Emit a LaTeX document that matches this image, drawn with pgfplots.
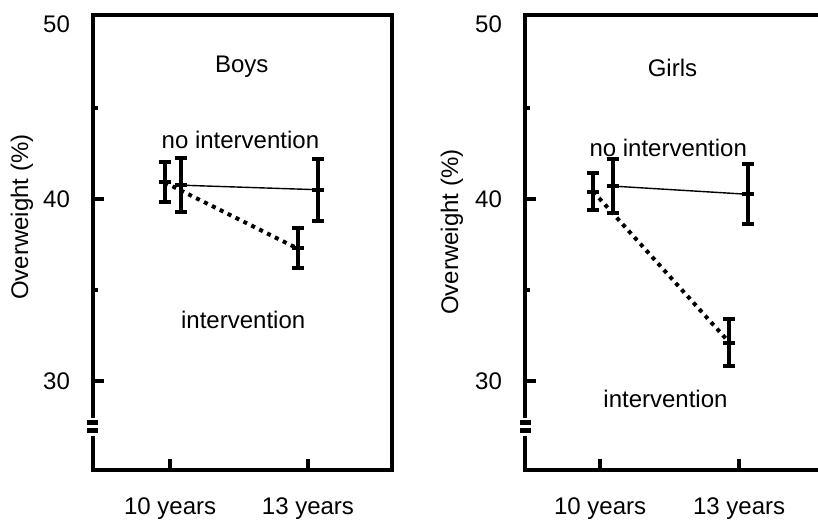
\documentclass[border=0pt]{standalone}
\usepackage{pgfplots}
\pgfplotsset{compat=1.18}
\usepackage{fontspec}
\setmainfont{Liberation Sans}
\pgfplotsset{
  panel/.style={
    scale only axis, width=149.5pt, height=227.5pt,
    ymin=25.1, ymax=50.1,
    axis line style={line width=2pt, line cap=rect},
    ytick={30,40}, minor ytick={35,45},
    extra y ticks={50},
    extra y tick style={major tick length=0pt, yticklabel style={yshift=-3.7pt}},
    xtick={0,1}, xticklabels={10 years, 13 years},
    xtick pos=lower, ytick pos=left,
    tick align=inside,
    major tick length=5.5pt, minor tick length=2.5pt,
    tick style={line width=2pt, black},
    minor tick style={line width=2pt, black},
    /pgf/number format/assume math mode=true,
    font=\fontsize{12}{14}\selectfont,
    ticklabel style={font=\fontsize{12}{14}\selectfont},
    yticklabel style={xshift=-8pt},
    xticklabel style={yshift=-10.5pt},
    clip=false,
  },
  thinline/.style={black, line width=0.7pt, no marks},
  dotline/.style={black, line width=2pt, dash pattern=on 2pt off 2.4pt, no marks},
  ebar/.style={black, only marks, mark=-, mark size=3pt, mark options={line width=2pt, solid},
    error bars/.cd, y dir=both, y explicit,
    error bar style={line width=2pt, solid},
    error mark options={rotate=90, line width=2pt, mark size=3pt, solid}},
}
\begin{document}
\begin{tikzpicture}
% Boys
\begin{axis}[panel, at={(46.5pt,25pt)}, anchor=south west,
  xmin=-0.56, xmax=1.61,
  ylabel={Overweight (\%)},
  ylabel style={at={(rel axis cs:0,0.556)}, yshift=35.5pt, anchor=center, font=\fontsize{12}{14}\selectfont}]
\addplot[thinline] coordinates {(0.08,40.75) (1.07,40.5)};
\addplot[dotline] coordinates {(-0.04,40.9) (0.93,37.25)};
\addplot[ebar] coordinates {(-0.04,40.9) +- (0,1.1) (0.08,40.75) +- (0,1.5) (0.93,37.3) +- (0,1.1) (1.07,40.5) +- (0,1.7)};
\node at (axis cs:0.52,47.25) {Boys};
\node at (axis cs:0.51,43.25) {no intervention};
\node at (axis cs:0.53,33.35) {intervention};
\end{axis}
% Girls
\begin{axis}[panel, at={(262.5pt,25pt)}, anchor=south west,
  xmin=-0.54, xmax=1.61,
  ylabel={Overweight (\%)},
  ylabel style={at={(rel axis cs:0,0.523)}, yshift=36.5pt, anchor=center, font=\fontsize{12}{14}\selectfont}]
\addplot[thinline] coordinates {(0.09,40.7) (1.06,40.25)};
\addplot[dotline] coordinates {(-0.05,40.4) (0.93,32.1)};
\addplot[ebar] coordinates {(-0.05,40.4) +- (0,1.0) (0.09,40.7) +- (0,1.5) (0.93,32.1) +- (0,1.3) (1.06,40.25) +- (0,1.65)};
\node at (axis cs:0.52,47.2) {Girls};
\node at (axis cs:0.49,42.8) {no intervention};
\node at (axis cs:0.47,29.0) {intervention};
\end{axis}
% axis break marks
\foreach \x in {46.5, 263} {
  \fill[white] (\x pt-2pt,42pt) rectangle (\x pt+2pt,51pt);
  \fill[black] (\x pt-3pt,47.5pt) rectangle (\x pt+2.5pt,50pt);
  \fill[black] (\x pt-3pt,43.5pt) rectangle (\x pt+2.5pt,46pt);
}
\pgfresetboundingbox
\path[use as bounding box] (0,0) rectangle (409pt,260pt);
\end{tikzpicture}
\end{document}
